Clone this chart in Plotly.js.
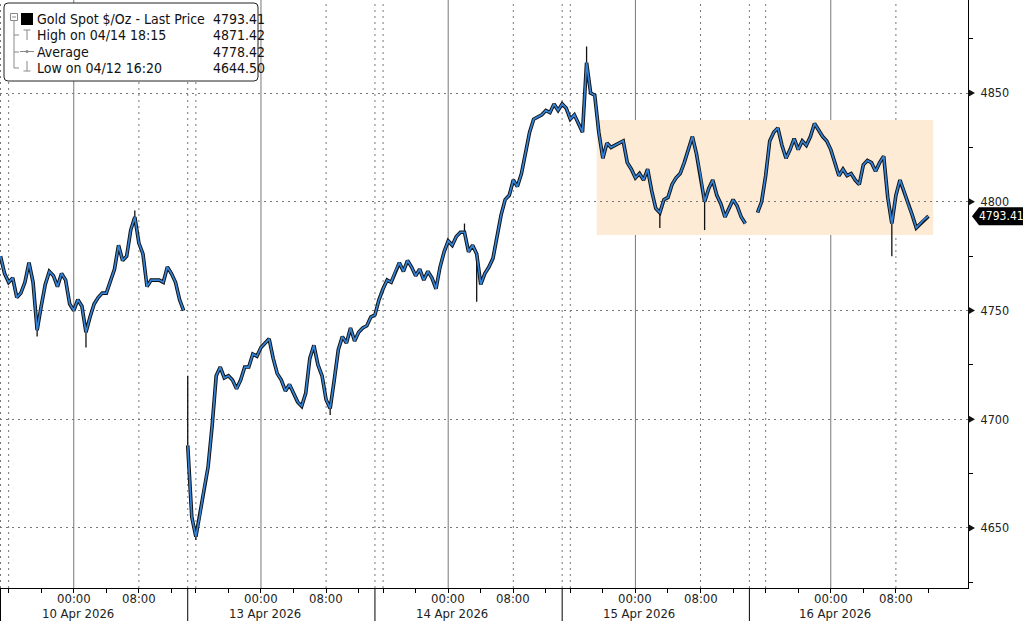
<!DOCTYPE html>
<html><head><meta charset="utf-8">
<script src="https://cdn.plot.ly/plotly-3.0.1.min.js"></script>
<style>html,body{margin:0;padding:0;background:#fff;}#chart{width:1023px;height:621px;}</style>
</head><body><div id="chart"></div>
<script>
// ---------------- DATA ----------------
const sessionLabels = ['10 Apr 2026', '13 Apr 2026', '14 Apr 2026', '15 Apr 2026', '16 Apr 2026'];
const sessionOpens  = ['2026-04-09T15:00', '2026-04-12T15:00', '2026-04-13T15:00', '2026-04-14T15:00', '2026-04-15T15:00'];
const sessionCloses = ['2026-04-10T14:00', '2026-04-13T14:00', '2026-04-14T14:00', '2026-04-15T14:00', '2026-04-16T14:00'];
const axisBreaks = [['2026-04-10T14:00', '2026-04-12T15:00'], ['2026-04-13T14:00', '2026-04-13T15:00'], ['2026-04-14T14:00', '2026-04-14T15:00']];
const lineBreakBefore = [false, true, false, false, true];
const barMinutes = 30;

// 30-minute closes, each session from its open
const price10 = [4775,4767,4763,4765,4756,4758,4763,4772,4763,4741,4752,4762,4768,4766,4761,4767,4764,4753,4750,4755,4752,4740,4747,4753,4756,4758,4758,4764,4769,4780,4773,4775,4787,4793,4781,4776,4761,4764,4764,4764,4763,4770,4767,4763,4755,4750];
const price13 = [4688,4655,4646,4656,4668,4678,4697,4720,4724,4719,4720,4718,4714,4718,4724,4724,4730,4729,4733,4735,4737,4728,4721,4718,4713,4716,4712,4708,4706,4712,4728,4734,4725,4720,4709,4705,4718,4732,4738,4735,4742,4736,4740,4742,4743,4747];
const price14 = [4748,4755,4760,4764,4763,4768,4772,4768,4773,4770,4766,4769,4764,4768,4765,4760,4770,4777,4782,4780,4784,4786,4786,4777,4780,4776,4762,4767,4770,4774,4784,4794,4801,4803,4810,4807,4813,4822,4832,4838,4839,4840,4842,4841,4845,4842];
const price15 = [4845,4843,4838,4840,4836,4832,4864,4850,4849,4832,4820,4827,4825,4826,4827,4828,4818,4815,4811,4813,4810,4815,4805,4797,4795,4801,4802,4808,4811,4813,4818,4824,4830,4822,4812,4800,4806,4810,4803,4799,4793,4797,4801,4798,4793,4790];
const price16 = [4795,4800,4812,4828,4832,4834,4826,4820,4824,4829,4824,4828,4826,4830,4836,4833,4830,4828,4824,4818,4812,4815,4812,4813,4810,4808,4817,4819,4818,4814,4818,4821,4802,4790,4803,4810,4805,4799,4794,4788,4790,4792,4793.41];
const sessionPrices = [price10, price13, price14, price15, price16];

// intrabar extremes (wicks)
const spikeSession = [0, 0, 0, 1, 1, 1, 2, 2, 3, 3, 3, 4];
const spikeBar     = [9, 21, 33, 0, 2, 35, 22, 25, 6, 24, 35, 33];
const spikeValue   = [4738, 4733, 4796, 4720, 4644.5, 4702, 4790, 4754, 4871.42, 4788, 4787, 4775];

// highlighted range
const highlightStart = '2026-04-14T19:15';
const highlightEnd   = '2026-04-16T12:35';
const highlightLow   = 4784.7;
const highlightHigh  = 4837.6;

const lastPrice = 4793.41;
const yTickVals = [4650, 4700, 4750, 4800, 4850];
const legendLabels = ['Gold Spot $/Oz - Last Price', 'High on 04/14 18:15', 'Average', 'Low on 04/12 16:20'];
const legendValues = ['4793.41', '4871.42', '4778.42', '4644.50'];

// ---------------- TIME SCALE ----------------
function parseT(s) {
  const [d, t] = s.split('T');
  const [Y, M, D] = d.split('-').map(Number);
  const [h, m] = t.split(':').map(Number);
  return Date.UTC(Y, M - 1, D, h, m) / 3600000;
}
const origin = parseT(sessionOpens[0]);
function axisHour(tt) {
  const h = (typeof tt === 'number') ? tt : parseT(tt);
  let v = h - origin;
  for (const [a, b] of axisBreaks) {
    const A = parseT(a), B = parseT(b);
    if (h >= B) v -= (B - A); else if (h > A) v -= (h - A);
  }
  return v;
}
function barX(s, i) { return axisHour(parseT(sessionOpens[s]) + i * barMinutes / 60); }

// ---------------- SERIES ----------------
const xs = [], ys = [];
sessionPrices.forEach((arr, s) => {
  if (lineBreakBefore[s]) { xs.push(null); ys.push(null); }
  arr.forEach((v, i) => { xs.push(barX(s, i)); ys.push(v); });
});
const wx = [], wy = [];
spikeSession.forEach((s, k) => {
  const b = spikeBar[k];
  wx.push(barX(s, b), barX(s, b), null);
  wy.push(sessionPrices[s][b], spikeValue[k], null);
});

// ---------------- AXIS TICKS / GRID ----------------
const tickVals = [], tickLabels = [];
const solidGrid = [], dotGrid = [], separators = [], dateLabelX = [];
sessionOpens.forEach((o, s) => {
  const t0 = parseT(o);
  [1, 5, 9, 13, 17, 21].forEach(dh => {
    const clock = ((15 + dh) % 24);
    tickVals.push(axisHour(t0 + dh));
    tickLabels.push(clock === 0 ? '00:00' : clock === 8 ? '08:00' : '');
  });
  solidGrid.push(axisHour(t0 + 9));
  dotGrid.push(axisHour(t0 + 1), axisHour(t0 + 17));
  dateLabelX.push(axisHour(t0 + 9));
});
separators.push(axisHour(sessionOpens[0]));
for (let s = 0; s < sessionCloses.length - 1; s++) separators.push(axisHour(sessionCloses[s]));
separators.forEach(v => dotGrid.push(v));

// ---------------- LAYOUT ----------------
const W = 968, H = 588;
const PX = x => x / W, PY = y => (H - y) / H;
const FONT = "'DejaVu Sans Condensed', 'Liberation Sans Narrow', 'DejaVu Sans', sans-serif";
const DOT = '2px,4px';

const shapes = [];
shapes.push({type: 'rect', xref: 'x', yref: 'y', x0: axisHour(highlightStart), x1: axisHour(highlightEnd),
  y0: highlightLow, y1: highlightHigh, fillcolor: '#fdebd6', line: {width: 0}, layer: 'below'});
solidGrid.forEach(v => shapes.push({type: 'line', xref: 'x', yref: 'paper', x0: v, x1: v, y0: 0, y1: 1,
  line: {color: '#777', width: 1}, layer: 'below'}));
dotGrid.forEach(v => shapes.push({type: 'line', xref: 'x', yref: 'paper', x0: v, x1: v, y0: 0, y1: 1,
  line: {color: '#777', width: 1, dash: DOT}, layer: 'below'}));
separators.forEach(v => shapes.push({type: 'line', xref: 'x', yref: 'paper', x0: v, x1: v, y0: 0, y1: -0.06,
  line: {color: '#000', width: 1}}));
// y tick triangles
yTickVals.forEach(v => shapes.push({type: 'path', xref: 'paper', yref: 'y', xsizemode: 'pixel', ysizemode: 'pixel',
  xanchor: 1, yanchor: v, path: 'M 0 -4 L 7 0 L 0 4 Z', fillcolor: '#111', line: {width: 0}}));
// last price tag
shapes.push({type: 'path', xref: 'paper', yref: 'y', xsizemode: 'pixel', ysizemode: 'pixel',
  xanchor: 1, yanchor: lastPrice, path: 'M 4 0 L 11 -9 L 56 -9 L 56 9 L 11 9 Z', fillcolor: '#000', line: {width: 0}});

// legend box
const bx0 = PX(4), bx1 = PX(258), by0 = PY(3), by1 = PY(81), rx = 4 / W, ry = 4 / H;
shapes.push({type: 'path', xref: 'paper', yref: 'paper', layer: 'above', fillcolor: '#fff', line: {color: '#222', width: 1},
  path: `M ${bx0+rx} ${by0} L ${bx1-rx} ${by0} Q ${bx1} ${by0} ${bx1} ${by0-ry} L ${bx1} ${by1+ry} Q ${bx1} ${by1} ${bx1-rx} ${by1} L ${bx0+rx} ${by1} Q ${bx0} ${by1} ${bx0} ${by1+ry} L ${bx0} ${by0-ry} Q ${bx0} ${by0} ${bx0+rx} ${by0} Z`});
const lg = (x0, y0, x1, y1, color) => shapes.push({type: 'line', xref: 'paper', yref: 'paper', layer: 'above',
  x0: PX(x0), y0: PY(y0), x1: PX(x1), y1: PY(y1), line: {color: color || '#888', width: 1}});
shapes.push({type: 'rect', xref: 'paper', yref: 'paper', layer: 'above', x0: PX(10.5), x1: PX(17.5), y0: PY(13.5), y1: PY(20.5),
  fillcolor: '#fff', line: {color: '#888', width: 1}});
lg(12, 17, 16, 17);
shapes.push({type: 'rect', xref: 'paper', yref: 'paper', layer: 'above', x0: PX(21), x1: PX(33), y0: PY(13), y1: PY(25),
  fillcolor: '#000', line: {width: 0}});
lg(14, 21, 14, 68); lg(14, 35, 19, 35); lg(14, 52, 19, 52); lg(14, 68, 19, 68);
lg(27, 30, 27, 40); lg(23.5, 30, 30.5, 30);
lg(20, 51.5, 34, 51.5);
shapes.push({type: 'circle', xref: 'paper', yref: 'paper', layer: 'above', x0: PX(25.5), x1: PX(28.5), y0: PY(50), y1: PY(53),
  fillcolor: '#888', line: {width: 0}});
lg(27, 61, 27, 71); lg(23.5, 71, 30.5, 71);

const annotations = [];
const rowY = [19, 35, 52, 68];
legendLabels.forEach((t, i) => {
  annotations.push({xref: 'paper', yref: 'paper', x: PX(35), y: PY(rowY[i]), xanchor: 'left', yanchor: 'middle',
    text: t, showarrow: false, font: {family: FONT, size: 14, color: '#111'}});
  annotations.push({xref: 'paper', yref: 'paper', x: PX(211), y: PY(rowY[i]), xanchor: 'left', yanchor: 'middle',
    text: legendValues[i], showarrow: false, font: {family: FONT, size: 14, color: '#111'}});
});
// x tick labels
tickVals.forEach((v, k) => {
  if (!tickLabels[k]) return;
  annotations.push({xref: 'x', yref: 'paper', x: v, y: PY(598.5), xanchor: 'center', yanchor: 'middle',
    text: tickLabels[k], showarrow: false, font: {family: FONT, size: 13, color: '#222'}});
});
sessionLabels.forEach((t, s) => annotations.push({xref: 'x', yref: 'paper', x: dateLabelX[s], xshift: 4, y: PY(613.5),
  yanchor: 'middle', xanchor: 'center', text: t, showarrow: false, font: {family: FONT, size: 13, color: '#222'}}));
annotations.push({xref: 'paper', yref: 'y', x: 1, xshift: 9, y: lastPrice, xanchor: 'left', yanchor: 'middle',
  text: lastPrice.toFixed(2), showarrow: false, font: {family: FONT, size: 12, color: '#fff'}});

const traces = [
  {type: 'scatter', mode: 'lines', x: xs, y: ys, line: {color: '#111', width: 3.6}, connectgaps: false, hoverinfo: 'skip'},
  {type: 'scatter', mode: 'lines', x: wx, y: wy, line: {color: '#111', width: 1.3}, connectgaps: false, hoverinfo: 'skip'},
  {type: 'scatter', mode: 'lines', x: xs, y: ys, line: {color: '#3384d9', width: 1.7}, connectgaps: false, hoverinfo: 'skip'}
];

const layout = {
  width: 1023, height: 621,
  margin: {l: 0, r: 55, t: 0, b: 33, pad: 0},
  paper_bgcolor: '#fff', plot_bgcolor: '#fff',
  showlegend: false,
  xaxis: {
    range: [-0.5 / 8.14, 967.5 / 8.14], autorange: false,
    showgrid: false, zeroline: false, showline: true, linecolor: '#000', linewidth: 1,
    ticks: 'outside', ticklen: 4, tickcolor: '#000', tickwidth: 1,
    tickmode: 'array', tickvals: tickVals, showticklabels: false, automargin: false
  },
  yaxis: {
    side: 'right', range: [4622.4, 4892.8], autorange: false,
    showgrid: true, gridcolor: '#777', gridwidth: 1, griddash: DOT,
    zeroline: false, showline: true, linecolor: '#000', linewidth: 1,
    tickmode: 'array', tickvals: yTickVals, ticks: '', ticklabelstandoff: 9,
    tickfont: {family: FONT, size: 12.5, color: '#222'}, automargin: false,
    minor: {tickmode: 'linear', tick0: 4625, dtick: 50, ticks: 'outside', ticklen: 4, tickcolor: '#000', showgrid: false}
  },
  shapes: shapes,
  annotations: annotations
};

Plotly.newPlot('chart', traces, layout, {staticPlot: true, displayModeBar: false});
</script>
</body></html>
